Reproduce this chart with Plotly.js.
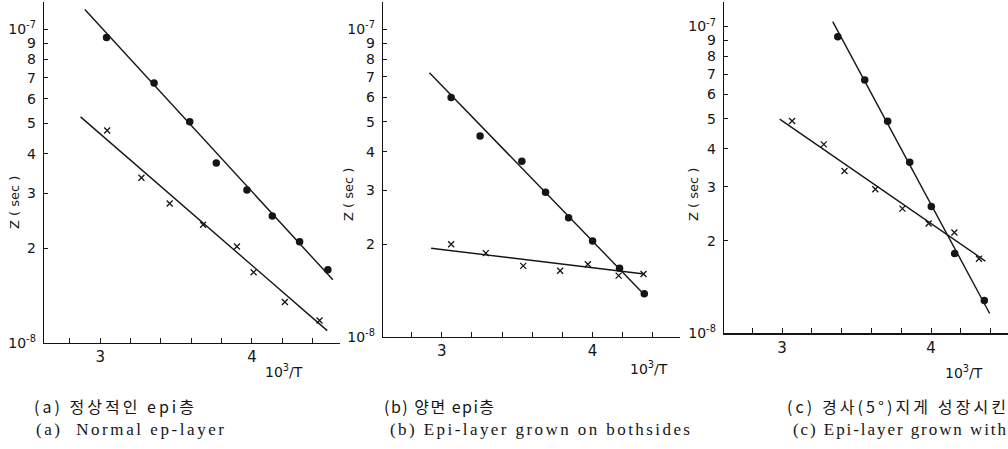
<!DOCTYPE html>
<html><head><meta charset="utf-8">
<script src="https://cdn.plot.ly/plotly-3.0.1.min.js"></script>
<style>html,body{margin:0;padding:0;background:#fff;overflow:hidden}</style>
</head><body>
<div id="chart" style="width:1008px;height:449px"></div>
<script>
// Panel (a): normal epi-layer
var aDotX = [3.042, 3.355, 3.59, 3.765, 3.967, 4.134, 4.314, 4.50];
var aDotY = [9.4e-8, 6.73e-8, 5.07e-8, 3.74e-8, 3.07e-8, 2.54e-8, 2.10e-8, 1.71e-8];
var aDotFitX = [2.899, 4.533];
var aDotFitY = [1.153e-7, 1.59e-8];
var aCrsX = [3.046, 3.272, 3.458, 3.678, 3.901, 4.011, 4.217, 4.445];
var aCrsY = [4.75e-8, 3.36e-8, 2.78e-8, 2.38e-8, 2.03e-8, 1.68e-8, 1.35e-8, 1.18e-8];
var aCrsFitX = [2.871, 4.496];
var aCrsFitY = [5.25e-8, 1.095e-8];
// Panel (b): grown on both sides
var bDotX = [3.062, 3.254, 3.531, 3.688, 3.841, 4.0, 4.179, 4.343];
var bDotY = [6.0e-8, 4.5e-8, 3.72e-8, 2.95e-8, 2.44e-8, 2.05e-8, 1.67e-8, 1.38e-8];
var bDotFitX = [2.918, 4.35];
var bDotFitY = [7.23e-8, 1.36e-8];
var bCrsX = [3.062, 3.292, 3.54, 3.785, 3.969, 4.173, 4.338];
var bCrsY = [2.0e-8, 1.87e-8, 1.70e-8, 1.64e-8, 1.72e-8, 1.58e-8, 1.60e-8];
var bCrsFitX = [2.929, 4.343];
var bCrsFitY = [1.94e-8, 1.60e-8];
// Panel (c): grown tilted (5°)
var cDotX = [3.374, 3.555, 3.709, 3.857, 4.002, 4.159, 4.358];
var cDotY = [9.27e-8, 6.70e-8, 4.91e-8, 3.61e-8, 2.59e-8, 1.82e-8, 1.28e-8];
var cDotFitX = [3.34, 4.394];
var cDotFitY = [1.038e-7, 1.16e-8];
var cCrsX = [3.067, 3.28, 3.419, 3.626, 3.808, 3.984, 4.157, 4.322];
var cCrsY = [4.92e-8, 4.13e-8, 3.38e-8, 2.95e-8, 2.55e-8, 2.28e-8, 2.13e-8, 1.75e-8];
var cCrsFitX = [2.984, 4.365];
var cCrsFitY = [4.99e-8, 1.72e-8];

var yTickVals = [1e-8, 2e-8, 3e-8, 4e-8, 5e-8, 6e-8, 7e-8, 8e-8, 9e-8, 1e-7];
var yTickText = ['10<sup>-8</sup>', '2', '3', '4', '5', '6', '7', '8', '9', '10<sup>-7</sup>'];
var xTickVals = [3, 4];
var xTickText = ['3', '4'];
var yTitle = 'Z ( sec )';
var xTitle = '10<sup>3</sup>/T';
var captionsKo = ['(a) 정상적인 epi층', '(b) 양면 epi층', '(c) 경사(5°)지게 성장시킨'];
var captionsEn = ['(a)  Normal ep-layer', '(b) Epi-layer grown on bothsides', '(c) Epi-layer grown with'];

var ink = '#151515';
function line(x, y, ax) {
  return {x: x, y: y, xaxis: 'x' + ax, yaxis: 'y' + ax, mode: 'lines', type: 'scatter',
          line: {color: ink, width: 1.4}, hoverinfo: 'skip', showlegend: false};
}
function dots(x, y, ax) {
  return {x: x, y: y, xaxis: 'x' + ax, yaxis: 'y' + ax, mode: 'markers', type: 'scatter',
          marker: {symbol: 'circle', size: 7.5, color: ink}, showlegend: false};
}
function crosses(x, y, ax) {
  return {x: x, y: y, xaxis: 'x' + ax, yaxis: 'y' + ax, mode: 'markers', type: 'scatter',
          marker: {symbol: 'x-thin-open', size: 6, color: ink, line: {color: ink, width: 1.3}}, showlegend: false};
}
var data = [
  line(aDotFitX, aDotFitY, ''), line(aCrsFitX, aCrsFitY, ''), dots(aDotX, aDotY, ''), crosses(aCrsX, aCrsY, ''),
  line(bDotFitX, bDotFitY, '2'), line(bCrsFitX, bCrsFitY, '2'), dots(bDotX, bDotY, '2'), crosses(bCrsX, bCrsY, '2'),
  line(cDotFitX, cDotFitY, '3'), line(cCrsFitX, cCrsFitY, '3'), dots(cDotX, cDotY, '3'), crosses(cCrsX, cCrsY, '3')
];

var xTickFont = {family: 'DejaVu Sans, sans-serif', size: 15, color: ink};
var yTickFont = {family: 'DejaVu Sans, sans-serif', size: 14, color: ink};
function xax(domain, range, anchor) {
  return {domain: domain, range: range, anchor: anchor, showline: true, linecolor: ink, linewidth: 1.3,
          showgrid: false, zeroline: false, tickmode: 'array', tickvals: xTickVals, ticktext: xTickText,
          ticks: 'inside', ticklen: 5, tickcolor: ink, tickfont: xTickFont, fixedrange: true,
          minor: {tickmode: 'linear', tick0: 2.8, dtick: 0.2, ticks: 'inside', ticklen: 5, tickcolor: ink, showgrid: false}};
}
function yax(domain, range, anchor) {
  return {domain: domain, range: range, anchor: anchor, type: 'log', showline: true, linecolor: ink, linewidth: 1.3,
          showgrid: false, zeroline: false, tickmode: 'array', tickvals: yTickVals, ticktext: yTickText,
          ticks: 'inside', ticklen: 4, tickcolor: ink, tickfont: yTickFont, ticklabelstandoff: 4, fixedrange: true};
}
var serif = 'Liberation Serif, Noto Sans CJK KR, serif';
var koFont = 'Noto Sans CJK KR, Liberation Serif, sans-serif';
var sans = 'DejaVu Sans, sans-serif';
var anns = [];
function addAnn(text, xp, yp, size, fam, ang, center) {
  anns.push({text: text, x: xp / 1008, y: 1 - yp / 449, xref: 'paper', yref: 'paper',
             xanchor: center ? 'center' : 'left', yanchor: 'middle', align: 'left', borderpad: 0,
             showarrow: false, textangle: ang || 0, font: {family: fam, size: size, color: ink}});
}
addAnn(yTitle, 15, 203, 13, sans, -90, true);
addAnn(yTitle, 348, 195, 13, sans, -90, true);
addAnn(yTitle, 693, 195, 13, sans, -90, true);
addAnn(xTitle, 284, 371, 14, sans, 0, true);
addAnn(xTitle, 649, 368, 14, sans, 0, true);
addAnn(xTitle, 964, 372, 14, sans, 0, true);
// captions: [x position, y position, stretched width]
var capKoPos = [[33, 406, 160], [383, 406, 110], [786, 406, 219]];
var capEnPos = [[35, 429, 188], [389, 429, 300], [792, 429, 213]];
captionsKo.forEach(function (t, i) { addAnn(t, capKoPos[i][0], capKoPos[i][1], 16, koFont); });
captionsEn.forEach(function (t, i) { addAnn(t, capEnPos[i][0], capEnPos[i][1], 17, serif); });

var layout = {
  width: 1008, height: 449, margin: {l: 0, r: 0, t: 0, b: 0},
  paper_bgcolor: '#fff', plot_bgcolor: 'rgba(0,0,0,0)', showlegend: false,
  xaxis: xax([44/1008, 340/1008], [2.63, 4.58], 'y'),
  yaxis: yax([(449-343)/449, (449-2)/449], [-8, -6.914], 'x'),
  xaxis2: xax([383/1008, 680/1008], [2.61, 4.58], 'y2'),
  yaxis2: yax([(449-336.7)/449, (449-2)/449], [-8, -6.911], 'x2'),
  xaxis3: xax([724/1008, 1], [2.61, 4.517], 'y3'),
  yaxis3: yax([(449-333.3)/449, (449-2)/449], [-8, -6.92], 'x3'),
  annotations: anns
};
Plotly.newPlot('chart', data, layout, {staticPlot: true, displayModeBar: false}).then(function (gd) {
  var widths = {};
  captionsKo.forEach(function (t, i) { widths[t] = capKoPos[i][2]; });
  captionsEn.forEach(function (t, i) { widths[t] = capEnPos[i][2]; });
  gd.querySelectorAll('.annotation-text').forEach(function (el) {
    var w = widths[el.textContent];
    if (!w) return;
    var bb = el.getBBox();
    el.setAttribute('text-anchor', 'start');
    el.style.textAnchor = 'start';
    el.setAttribute('x', bb.x);
    el.setAttribute('lengthAdjust', 'spacing');
    el.setAttribute('textLength', w);
  });
});
</script>
</body></html>
